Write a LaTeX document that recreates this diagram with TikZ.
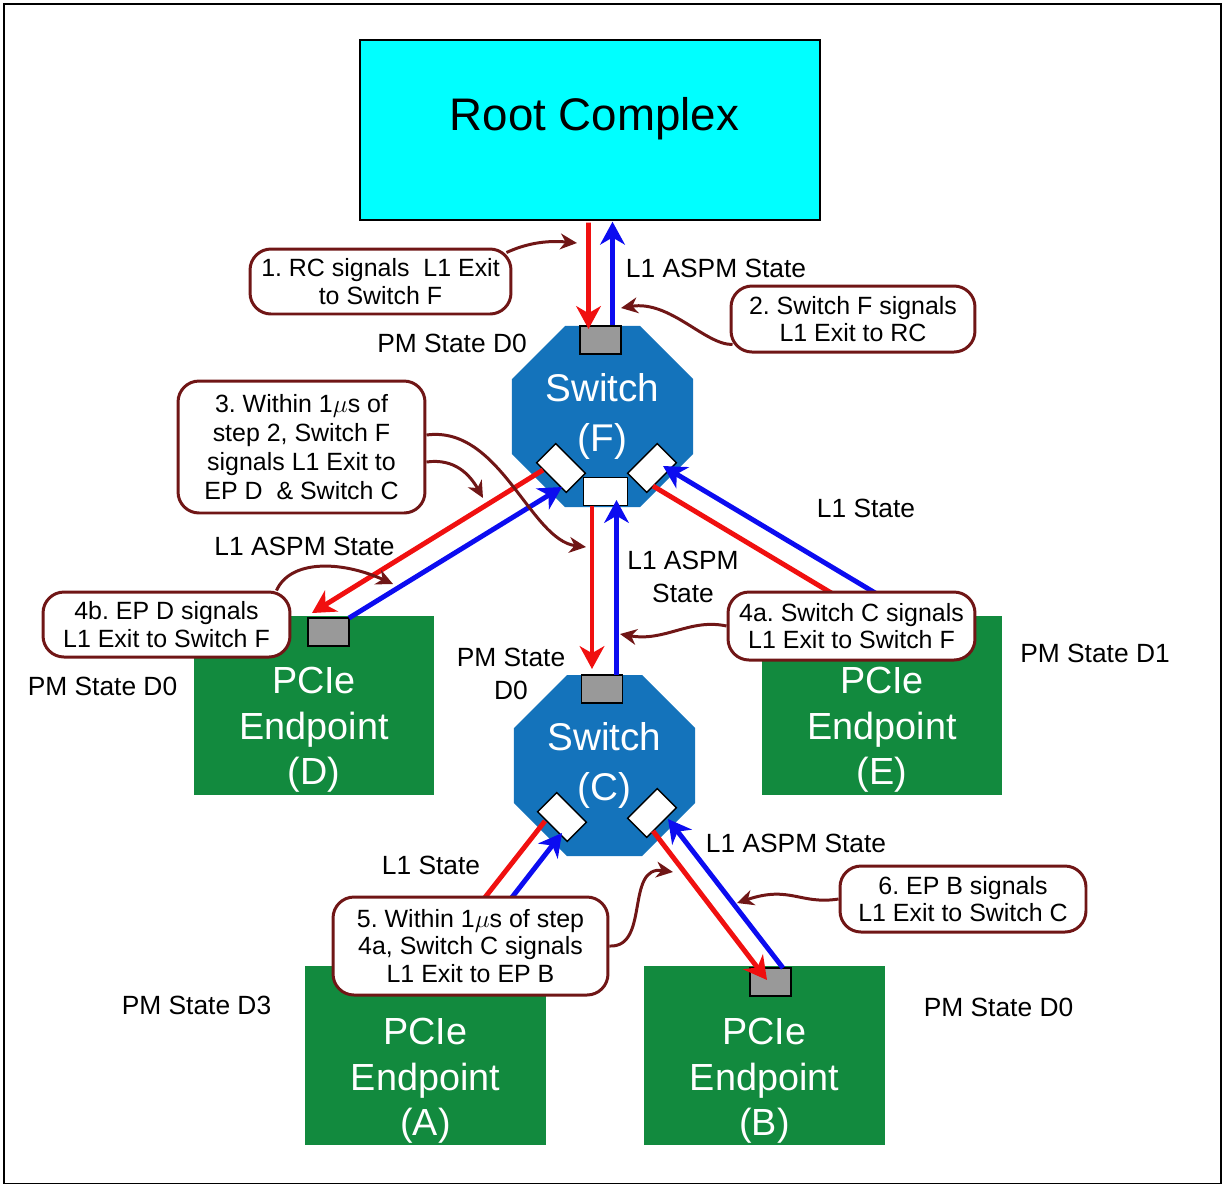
\documentclass[tikz,border=0pt]{standalone}
\usepackage{fontspec}
\setmainfont{Liberation Sans}
\usetikzlibrary{arrows.meta,shapes.geometric}
\definecolor{rcCyan}{RGB}{0,255,255}
\definecolor{swBlue}{RGB}{20,115,187}
\definecolor{epGreen}{RGB}{18,138,62}
\definecolor{noteRed}{RGB}{112,22,22}
\definecolor{portGray}{RGB}{153,153,153}
\definecolor{linkRed}{RGB}{240,16,16}
\definecolor{linkBlue}{RGB}{12,12,240}
\frenchspacing
\begin{document}
\begin{tikzpicture}[x=0.02cm,y=-0.02cm,
    lbl/.style={font=\fontsize{15pt}{18.7pt}\selectfont,align=center,inner sep=0},
    note/.style={draw=noteRed,line width=1.7pt,fill=white,rounded corners=0.42cm,align=center,inner sep=0,font=\fontsize{14.2pt}{15.6pt}\selectfont},
    switchbox/.style={regular polygon,regular polygon sides=8,minimum size=3.92cm,fill=swBlue,text=white,align=center,inner sep=0,font=\fontsize{22pt}{28pt}\selectfont},
    endpt/.style={fill=epGreen,minimum width=4.82cm,minimum height=3.58cm,inner sep=0},
    eptext/.style={text=white,align=center,inner sep=0,font=\fontsize{21.5pt}{26pt}\selectfont},
    gport/.style={draw,line width=0.8pt,fill=portGray,minimum width=0.82cm,minimum height=0.56cm,inner sep=0},
    wport/.style={draw,line width=0.8pt,fill=white,minimum width=0.84cm,minimum height=0.54cm,inner sep=0},
    redlink/.style={linkRed,line width=2.8pt,-{Stealth[length=13pt,width=14pt,inset=4pt]}},
    bluelink/.style={linkBlue,line width=2.8pt,-{Stealth[length=13pt,width=14pt,inset=4pt]}},
    notearrow/.style={noteRed,line width=1.7pt,-{Stealth[length=9.5pt,width=9pt,inset=3pt]}}]
    \useasboundingbox (0,0) rectangle (1226,1188);
    \draw[line width=0.6pt] (4,4) rectangle (1221,1183);
    \node[draw,line width=0.8pt,fill=rcCyan,minimum width=9.2cm,minimum height=3.6cm,inner sep=0] (rc) at (590,130) {};
    \node[font=\fontsize{26pt}{30pt}\selectfont,inner sep=0] (rcText) at (594.5,119) {Root Complex};
    \node[switchbox] (swF) at (602.5,416.5) {Switch\\(F)};
    \node[switchbox] (swC) at (604.5,765.5) {Switch\\(C)};
    \node[endpt] (epD) at (314,705.5) {};
    \node[endpt] (epE) at (882,705.5) {};
    \node[endpt] (epA) at (425.5,1055.5) {};
    \node[endpt] (epB) at (764.5,1055.5) {};
    \node[eptext] (tD) at (314,730) {PCIe\\Endpoint\\(D)};
    \node[eptext] (tE) at (882,730) {PCIe\\Endpoint\\(E)};
    \node[eptext] (tA) at (425.5,1081) {PCIe\\Endpoint\\(A)};
    \node[eptext] (tB) at (764.5,1081) {PCIe\\Endpoint\\(B)};
    \node[gport] (pFt) at (600.5,340) {};
    \node[wport,minimum width=0.88cm,minimum height=0.56cm] (pFb) at (605.5,491.5) {};
    \node[wport,rotate=-45] (pFl) at (561,468) {};
    \node[wport,rotate=45] (pFr) at (652,468) {};
    \node[gport] (pCt) at (602,689) {};
    \node[wport,rotate=-45] (pCl) at (562,817) {};
    \node[wport,rotate=45] (pCr) at (652,813) {};
    \node[gport] (pD) at (328.5,632) {};
    \node[gport] (pB) at (770.5,982) {};
    \coordinate (eE) at (865,600);
    \coordinate (eA) at (492.5,905);
    % links
    \draw[redlink] ([shift={(-1.5,2)}]rc.south) -- ([shift={(-12,-11)}]pFt.center);
    \draw[bluelink] ([shift={(12,0)}]pFt.north) -- ([shift={(22.5,1)}]rc.south);
    \draw[redlink] ([shift={(-13.5,14)}]pFb.center) -- ([shift={(-10,-20)}]pCt.center);
    \draw[bluelink] ([shift={(14.5,-14)}]pCt.center) -- ([shift={(11,8.5)}]pFb.center);
    \draw[redlink] ([shift={(-18,2)}]pFl.center) -- ([shift={(-16.5,-19)}]pD.center);
    \draw[bluelink] ([shift={(20.5,-14)}]pD.center) -- ([shift={(1,19)}]pFl.center);
    \draw[redlink,-] ([shift={(1,18)}]pFr.center) -- ([shift={(-22,0)}]eE);
    \draw[bluelink] ([shift={(22,0)}]eE) -- ([shift={(11,-2)}]pFr.center);
    \draw[redlink,-] ([shift={(-17,4)}]pCl.center) -- ([shift={(-13.5,0)}]eA);
    \draw[bluelink] ([shift={(13.5,0)}]eA) -- ([shift={(0,16)}]pCl.center);
    \draw[redlink] ([shift={(1,18)}]pCr.center) -- ([shift={(-3.5,-2)}]pB.center);
    \draw[bluelink] ([shift={(12.5,-14)}]pB.center) -- ([shift={(16,6)}]pCr.center);
    % state labels
    \foreach \x/\y/\txt [count=\i] in {716/268/L1 ASPM State, 452/343/PM State D0,
        304.5/546/L1 ASPM State, 866/508/L1 State, 683/577/{L1 ASPM\\State},
        511/673.5/{PM State\\D0}, 102.5/686/PM State D0, 1095/653/PM State D1,
        431/865/L1 State, 796/843/L1 ASPM State, 196.5/1005/PM State D3,
        998.5/1007/PM State D0}{
        \node[lbl] (lbl\i) at (\x,\y) {\txt};
    }
    % callouts
    \node[note,minimum width=5.22cm,minimum height=1.3cm] (c1) at (380.5,281.5) {1. RC signals\ \ L1 Exit\\to Switch F};
    \node[note,minimum width=4.88cm,minimum height=1.32cm] (c2) at (853,319) {2. Switch F signals\\L1 Exit to RC};
    \node[note,minimum width=4.94cm,minimum height=2.64cm,font=\fontsize{14.2pt}{16.4pt}\selectfont] (c3) at (301.5,447) {3. Within 1$\mu$s of\\step 2, Switch F\\signals L1 Exit to\\EP D\ \ \& Switch C};
    \node[note,minimum width=4.94cm,minimum height=1.3cm] (c4b) at (166.5,624.5) {4b. EP D signals\\L1 Exit to Switch F};
    \node[note,minimum width=4.94cm,minimum height=1.36cm] (c4a) at (851.5,626) {4a. Switch C signals\\L1 Exit to Switch F};
    \node[note,minimum width=5.5cm,minimum height=1.96cm] (c5) at (470.5,946) {5. Within 1$\mu$s of step\\4a, Switch C signals\\L1 Exit to EP B};
    \node[note,minimum width=4.92cm,minimum height=1.32cm] (c6) at (963,899) {6. EP B signals\\L1 Exit to Switch C};
    \coordinate (t1) at (577,243);
    \coordinate (t2) at (621,308);
    \coordinate (t3a) at (586,547);
    \coordinate (t3b) at (483,498);
    \coordinate (t4b) at (393,584);
    \coordinate (t4a) at (620,634);
    \coordinate (t5) at (673,872);
    \coordinate (t6) at (737,903);
    \draw[notearrow] ([shift={(-6,5)}]c1.north east) .. controls (525,244) and (545,240) .. (t1);
    \draw[notearrow] ([shift={(3,-9)}]c2.south west) .. controls (705,345) and (670,300) .. (t2);
    \draw[notearrow] ([shift={(0,-12)}]c3.east) .. controls (500,425) and (530,540) .. (t3a);
    \draw[notearrow] ([shift={(0,15)}]c3.east) .. controls (455,458) and (470,475) .. (t3b);
    \draw[notearrow] ([shift={(-15,0)}]c4b.north east) .. controls (290,560) and (340,560) .. (t4b);
    \draw[notearrow] (c4a.west) .. controls (690,618) and (665,642) .. (t4a);
    \draw[notearrow] (c5.east) .. controls (650,948) and (625,865) .. (t5);
    \draw[notearrow] (c6.west) .. controls (800,905) and (790,885) .. (t6);
\end{tikzpicture}
\end{document}
